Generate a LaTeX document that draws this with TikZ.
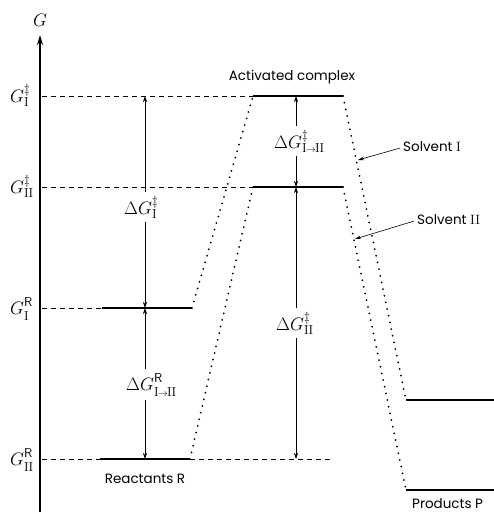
\RequirePackage{fix-cm}
\documentclass[tikz,border=0pt]{standalone}
\usepackage{fontspec}
\newfontfamily\lab{Poppins}
\usetikzlibrary{arrows.meta}
\DeclareMathSizes{18}{18}{13}{10}
\newcommand{\rn}[1]{\mathrm{#1}}
\newcommand{\toII}{\rn{I}\mkern-1mu{\scriptscriptstyle\to}\mkern-1mu\rn{II}}
\newcommand{\lsub}[1]{\raisebox{-2pt}{$\scriptstyle #1$}}
\newcommand{\hsup}[1]{\raisebox{1pt}{$\scriptstyle #1$}}
\begin{document}
\begin{tikzpicture}[x=1pt,y=-1pt,
  lvl/.style={line width=1.3pt},
  dashln/.style={line width=0.8pt, dash pattern=on 5pt off 4pt},
  dotln/.style={line width=2pt, line cap=round, dash pattern=on 0pt off 6.8pt},
  dim/.style={line width=0.6pt, {Stealth[length=6pt,width=4pt]}-{Stealth[length=6pt,width=4pt]}},
  lead/.style={line width=0.6pt, -{Stealth[length=6pt,width=3.5pt]}},
  dimlab/.style={fill=white, inner xsep=1pt, inner ysep=4pt, anchor=base west, font=\fontsize{18}{20}\selectfont},
  glab/.style={anchor=base west, inner sep=0pt, font=\fontsize{18}{20}\selectfont},
  txt/.style={inner sep=0pt, font=\lab\fontsize{13.5}{15}\selectfont}
]
\useasboundingbox (0,0) rectangle (494,514);
% axis
\coordinate (ax0) at (40,512);
\coordinate (ax1) at (40,35);
\draw[line width=1.8pt, -{Stealth[length=10pt,width=6pt]}] (ax0) -- (ax1);
\node[inner sep=0pt, anchor=base, font=\fontsize{18}{20}\selectfont] (Gax) at (40,27) {$G$};

% level coordinates
\coordinate (a1) at (42,96);   \coordinate (t1l) at (253,96);  \coordinate (t1r) at (343,96);
\coordinate (a2) at (42,187);  \coordinate (t2l) at (253,187); \coordinate (t2r) at (343,187);
\coordinate (a3) at (42,308);  \coordinate (r1l) at (102,308); \coordinate (r1r) at (192,308);
\coordinate (a4) at (42,459);  \coordinate (r2l) at (100,459); \coordinate (r2r) at (190,459);
\coordinate (r2e) at (330,459);
\coordinate (p1l) at (406,400); \coordinate (p1r) at (494,400);
\coordinate (p2l) at (406,490); \coordinate (p2r) at (494,490);

% dashed reference lines
\draw[dashln] (a1) -- (t1l);
\draw[dashln] (a2) -- (t2l);
\draw[dashln] (a3) -- (r1l);
\draw[dashln] (a4) -- (r2l);
\draw[dashln] (r2r) -- (r2e);

% solid levels
\draw[lvl] (t1l) -- (t1r);
\draw[lvl] (t2l) -- (t2r);
\draw[lvl] (r1l) -- (r1r);
\draw[lvl] (r2l) -- (r2r);
\draw[lvl] (p1l) -- (p1r);
\draw[lvl] (p2l) -- (p2r);

% dotted profiles
\draw[dotln] (r1r) -- (t1l);
\draw[dotln] (t1r) -- (p1l);
\draw[dotln] (r2r) -- (t2l);
\draw[dotln] (t2r) -- (p2l);

% left labels
\node[glab] (gI)  at (10,102) {$G^{\ddagger}_{\rn{I}}$};
\node[glab] (gII) at (10,193) {$G^{\ddagger}_{\rn{II}}$};
\node[glab] (gRI) at (10,314) {$G^{\hsup{\mathsf{R}}}_{\lsub{\rn{I}}}$};
\node[glab] (gRII) at (10,465) {$G^{\hsup{\mathsf{R}}}_{\lsub{\rn{II}}}$};

% dimension arrows
\coordinate (d1t) at (145,96);  \coordinate (d1b) at (145,308);
\coordinate (d2t) at (145,308); \coordinate (d2b) at (145,459);
\coordinate (d3t) at (296,96);  \coordinate (d3b) at (296,187);
\coordinate (d4t) at (296,187); \coordinate (d4b) at (296,459);
\draw[dim] (d1t) -- (d1b);
\draw[dim] (d2t) -- (d2b);
\draw[dim] (d3t) -- (d3b);
\draw[dim] (d4t) -- (d4b);
\node[dimlab] (l1) at (123,214) {$\Delta G^{\ddagger}_{\rn{I}}$};
\node[dimlab] (l2) at (125,390) {$\Delta G^{\hsup{\mathsf{R}}}_{\lsub{\toII}}$};
\node[dimlab] (l3) at (273,148) {$\Delta G^{\ddagger}_{\toII}$};
\node[dimlab] (l4) at (275,330) {$\Delta G^{\ddagger}_{\rn{II}}$};

% text labels
\node[txt, anchor=base] (act) at (292,80) {Activated complex};
\node[txt, anchor=base west] (s1) at (403,151) {Solvent {\rmfamily I}};
\node[txt, anchor=base west] (s2) at (417,224) {Solvent {\rmfamily II}};
\node[txt, anchor=base] (reac) at (145,483) {Reactants R};
\node[txt, anchor=base west] (prod) at (412,508) {Products P};

\coordinate (s1tip) at (358,160);
\coordinate (s2tip) at (355,239);
\draw[lead] (s1.west) ++(-3pt,-2pt) coordinate (s1a) -- (s1tip);
\draw[lead] (s2.west) ++(-3pt,-2pt) coordinate (s2a) -- (s2tip);
\end{tikzpicture}
\end{document}
